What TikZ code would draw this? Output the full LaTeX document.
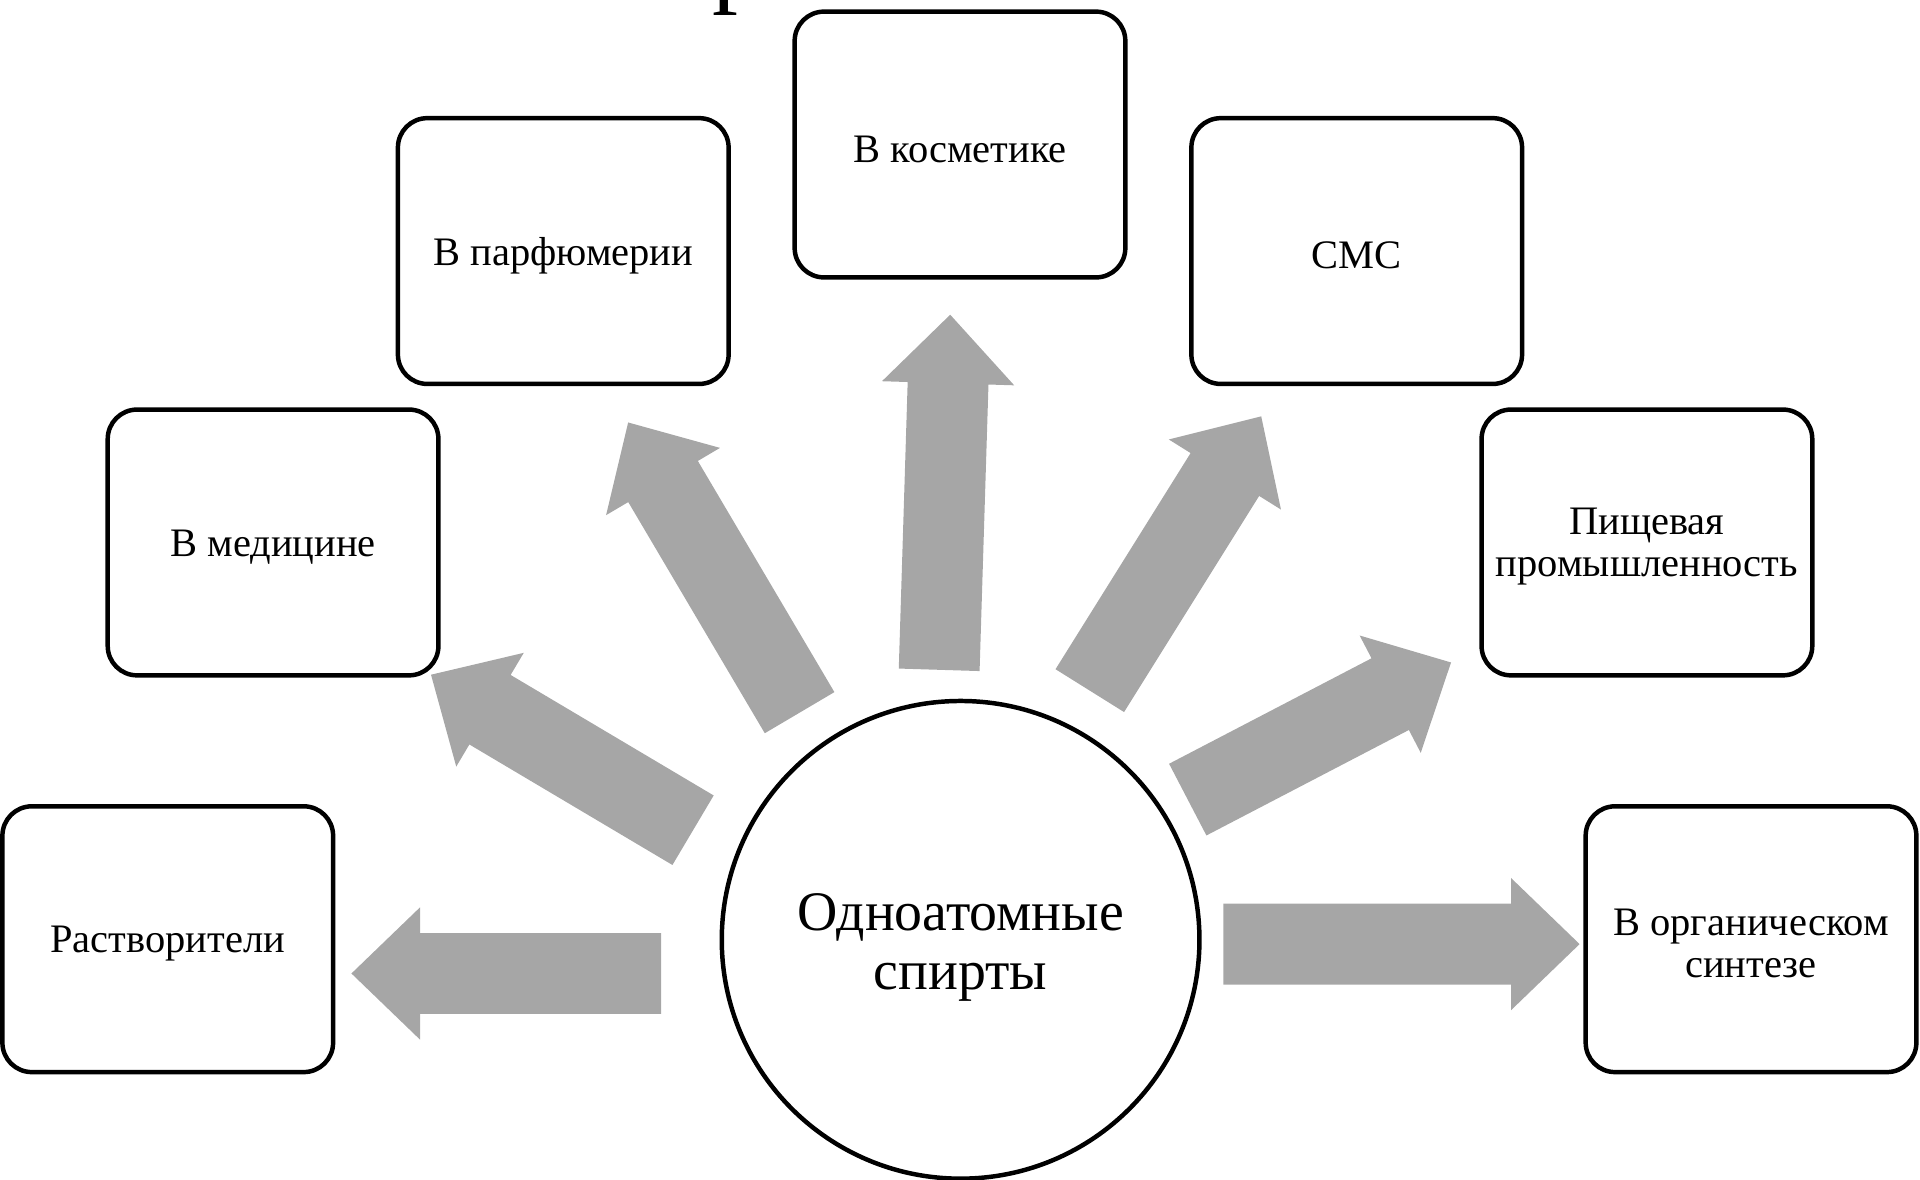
\documentclass[tikz,border=0pt]{standalone}
\usepackage{fontspec}
\setmainfont{Liberation Serif}
\usetikzlibrary{calc}
\definecolor{arrowgray}{RGB}{166,166,166}

% Block arrow from a tail point to a tip point: #1 prefix, #2 tail, #3 tip
\newcommand{\fatarrow}[3]{%
  \coordinate (#1b) at ($(#3)!0.7cm!(#2)$);
  \fill[arrowgray]
    ($(#2)!0.4125cm!90:(#3)$) -- ($(#1b)!0.4125cm!90:(#3)$) --
    ($(#1b)!0.675cm!90:(#3)$) -- (#3) --
    ($(#1b)!0.675cm!-90:(#3)$) -- ($(#1b)!0.4125cm!-90:(#3)$) --
    ($(#2)!0.4125cm!-90:(#3)$) -- cycle;}

\begin{document}
\begin{tikzpicture}[x=0.0125cm,y=-0.0125cm,
  usebox/.style={draw=black, line width=1.3pt, rounded corners=0.3cm,
    fill=white, minimum width=3.375cm, minimum height=2.7125cm},
  boxtext/.style={align=center, inner sep=0pt, yshift=-1.3pt,
    font=\fontsize{11.75}{12.2}\selectfont},
  hub/.style={circle, draw=black, line width=1.3pt, fill=white,
    minimum size=4.875cm},
  hubtext/.style={align=center, inner sep=0pt, yshift=-2.2pt,
    font=\fontsize{16.2}{17}\selectfont}]
\useasboundingbox (0,0) rectangle (1568,963);

% heading letter, mostly above the page edge
\node[anchor=base west, inner sep=0pt, font=\fontsize{30}{30}\selectfont]
  (title) at (581,-5) {р};

% application boxes
\node[usebox, label={[boxtext]center:Растворители}] (solv) at (137,767) {};
\node[usebox, label={[boxtext]center:В медицине}] (med) at (223,443) {};
\node[usebox, label={[boxtext]center:В парфюмерии}] (parf) at (460,205) {};
\node[usebox, label={[boxtext]center:В косметике}] (cosm) at (784,118) {};
\node[usebox, label={[boxtext]center:СМС}] (sms) at (1108,205) {};
\node[usebox, label={[boxtext]center:{Пищевая\\промышленность}}] (food) at (1345,443) {};
\node[usebox, label={[boxtext]center:{В органическом\\синтезе}}] (orgs) at (1430,767) {};

% central circle
\node[hub, label={[hubtext]center:{Одноатомные\\спирты}}] (alc) at (784.5,767.5) {};

% arrow tails and tips
\coordinate (aL0) at (540,795);  \coordinate (aL1) at (287,795);
\coordinate (aR0) at (999,771);  \coordinate (aR1) at (1290,771);
\coordinate (aU0) at (767,547);  \coordinate (aU1) at (776,257);
\coordinate (aP0) at (653,582);  \coordinate (aP1) at (513,345);
\coordinate (aS0) at (890,564);  \coordinate (aS1) at (1030,340);
\coordinate (aM0) at (566,678);  \coordinate (aM1) at (352,551);
\coordinate (aF0) at (970,653);  \coordinate (aF1) at (1185,541);

\fatarrow{aL}{aL0}{aL1}
\fatarrow{aR}{aR0}{aR1}
\fatarrow{aU}{aU0}{aU1}
\fatarrow{aP}{aP0}{aP1}
\fatarrow{aS}{aS0}{aS1}
\fatarrow{aM}{aM0}{aM1}
\fatarrow{aF}{aF0}{aF1}
\end{tikzpicture}
\end{document}
